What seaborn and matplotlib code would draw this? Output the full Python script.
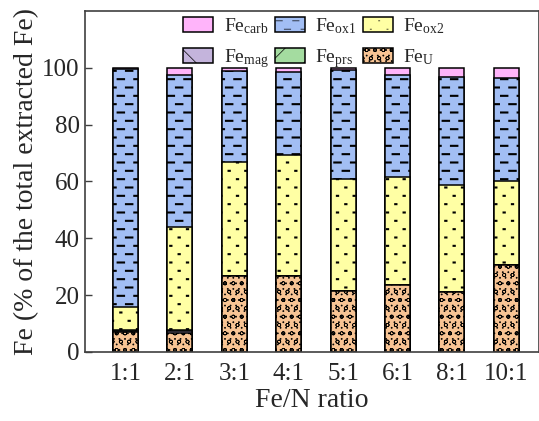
import numpy as np
import pandas as pd
import matplotlib.pyplot as plt
import matplotlib.hatch as mhatch
from matplotlib.path import Path
from matplotlib.patches import Patch
import seaborn as sns

import warnings
warnings.filterwarnings('ignore')

ratios = ['1:1', '2:1', '3:1', '4:1', '5:1', '6:1', '8:1', '10:1']
fe_u = [7.0, 6.8, 26.8, 26.8, 21.4, 23.5, 21.2, 30.6]
fe_mag = [0.4, 0.4, 0.0, 0.0, 0.0, 0.0, 0.0, 0.0]
fe_prs = [0.4, 0.4, 0.0, 0.0, 0.0, 0.0, 0.0, 0.0]
fe_ox2 = [7.9, 36.5, 40.0, 42.6, 39.4, 38.0, 37.6, 29.4]
fe_ox1 = [83.7, 53.2, 32.0, 29.2, 38.4, 36.1, 38.0, 36.5]
fe_carb = [0.6, 2.7, 1.2, 1.4, 0.8, 2.4, 3.2, 3.5]


# extra hatch: '_' short staggered dashes, ':' sparse staggered dots
class Staggered(mhatch.HatchPatternBase):
    def __init__(self, hatch, density):
        self.dash = hatch.count('_')
        self.dot = hatch.count(':')
        self.rows = 12 if (self.dash or self.dot) else 0
        self.cols = 6
        self.num_vertices = 2 * self.rows * self.cols

    def set_vertices_and_codes(self, vertices, codes):
        half = 0.032 if self.dash else 0.006
        k = 0
        for i in range(self.rows):
            y = (i + 0.5) / self.rows
            for j in range(self.cols):
                x = (j + 0.25 + 0.5 * (i % 2)) / self.cols
                vertices[k] = (x - half, y)
                vertices[k + 1] = (x + half, y)
                codes[k] = Path.MOVETO
                codes[k + 1] = Path.LINETO
                k += 2


mhatch._hatch_types.append(Staggered)

sns.set_theme(style='ticks')
plt.rcParams['font.family'] = ['Liberation Serif', 'DejaVu Serif']
plt.rcParams['mathtext.fontset'] = 'custom'
plt.rcParams['mathtext.rm'] = 'Liberation Serif'
plt.rcParams['mathtext.it'] = 'Liberation Serif:italic'
plt.rcParams['hatch.color'] = 'black'

# name, values, color, hatch, hatch width  (bottom to top)
layers = [
    ('Fe$_{\\rm U}$', fe_u, '#F8C494', 'oo...', 0.5),
    ('Fe$_{\\rm mag}$', fe_mag, '#C4B4DC', '\\', 1.2),
    ('Fe$_{\\rm prs}$', fe_prs, '#A4DCA0', '/', 1.2),
    ('Fe$_{\\rm ox2}$', fe_ox2, '#FFFFA4', ':', 1.5),
    ('Fe$_{\\rm ox1}$', fe_ox1, '#A2BEF4', '_', 1.5),
    ('Fe$_{\\rm carb}$', fe_carb, '#FFB4FA', '', 1.0),
]

df = pd.DataFrame({l[0]: l[1] for l in layers}, index=ratios)
cum = df.cumsum(axis=1)

fig = plt.figure(figsize=(5.39, 4.21), dpi=100)
ax = fig.add_axes([0.158, 0.164, 0.842, 0.81])

# draw cumulative totals from the top layer down so lower layers cover them
for name, vals, c, h, hw in layers[::-1]:
    plt.rcParams['hatch.linewidth'] = hw
    sns.barplot(x=ratios, y=cum[name].values, color=c, saturation=1,
                width=0.46, edgecolor='black', linewidth=1.1, hatch=h, ax=ax)

ax.set_xlim(-0.743, 7.6)
ax.set_ylim(0, 120)
ax.set_yticks([0, 20, 40, 60, 80, 100])
ax.set_xlabel('Fe/N ratio', fontsize=20, labelpad=2)
ax.set_ylabel('Fe (% of the total extracted Fe)', fontsize=20, labelpad=2)
ax.tick_params(axis='y', direction='in', length=5, width=1, labelsize=18, pad=4, color='#404040')
ax.tick_params(axis='x', length=0, labelsize=18, pad=8)
for sp in ax.spines.values():
    sp.set_visible(True)
    sp.set_color('#404040')
    sp.set_linewidth(1.2)

order = [5, 1, 4, 2, 3, 0]
handles = []
for i in order:
    plt.rcParams['hatch.linewidth'] = layers[i][4]
    handles.append(Patch(facecolor=layers[i][2], edgecolor='black', linewidth=1.1,
                         hatch=layers[i][3], label=layers[i][0]))
ax.legend(handles=handles, ncol=3, loc='upper center', bbox_to_anchor=(0.504, 1.035),
          frameon=False, fontsize=14, handlelength=1.55, handleheight=0.8,
          handletextpad=0.55, columnspacing=0.3, labelspacing=0.55)

fig.savefig('out.png', dpi=100)
